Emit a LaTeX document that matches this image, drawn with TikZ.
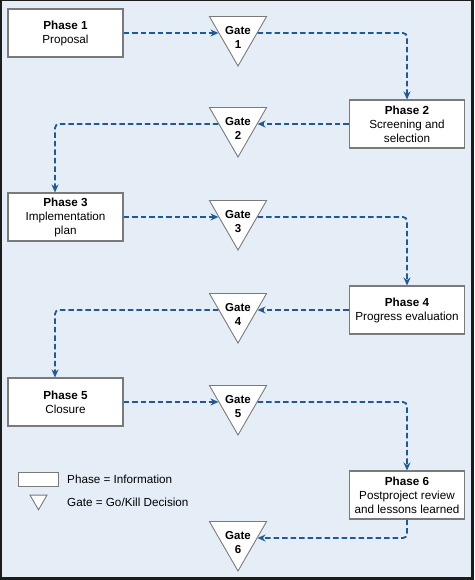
\documentclass[tikz,border=0pt]{standalone}
\usepackage{fontspec}
\setmainfont{Liberation Sans}
\usetikzlibrary{shapes.geometric,arrows.meta}
\definecolor{bg}{HTML}{E5EEF7}
\definecolor{flowblue}{HTML}{1F5A97}
\definecolor{edgegray}{HTML}{7A7A7A}
\definecolor{framecol}{HTML}{1C1C1C}
\begin{document}
\begin{tikzpicture}[x=1pt,y=-1pt,
 phasebox/.style={draw=edgegray, fill=white, line width=1.1pt, minimum width=115pt, minimum height=48pt, align=center, inner sep=1pt, font=\fontsize{11.7}{14}\selectfont},
 gate/.style={regular polygon, regular polygon sides=3, shape border rotate=180, draw=edgegray, fill=white, line width=0.9pt, minimum size=66pt, inner sep=0pt},
 gatetext/.style={align=center, font=\bfseries\fontsize{11.5}{14}\selectfont, inner sep=0pt},
 flow/.style={draw=flowblue, line width=1.8pt, dash pattern=on 5.5pt off 3pt, -{Stealth[length=8pt,width=7pt]}, rounded corners=4pt},
 legendtext/.style={anchor=west, font=\fontsize{11.7}{14}\selectfont, inner sep=0pt}]
\useasboundingbox (0,0) rectangle (474,580);
\fill[framecol] (0,0) rectangle (474,580);
\fill[bg] (2,1.5) rectangle (471,577);

\node[phasebox] (p1) at (65.5,33) {\textbf{Phase 1}\\Proposal};
\node[phasebox] (p2) at (407,124) {\textbf{Phase 2}\\Screening and\\selection};
\node[phasebox] (p3) at (65.5,217) {\textbf{Phase 3}\\Implementation\\plan};
\node[phasebox] (p4) at (407,310) {\textbf{Phase 4}\\Progress evaluation};
\node[phasebox] (p5) at (65.5,402) {\textbf{Phase 5}\\Closure};
\node[phasebox] (p6) at (407,495) {\textbf{Phase 6}\\Postproject review\\and lessons learned};

\foreach \n/\y in {1/33,2/124,3/217,4/310,5/402,6/538}{
  \node[gate] (g\n) at (238,\y) {};
  \node[gatetext] (g\n t) at ([yshift=-4.5pt]g\n.center) {Gate\\\n};
}

\draw[flow] (p1.east) -- (g1.west);
\draw[flow] (g1.east) -| (p2.north);
\draw[flow] (p2.west) -- (g2.east);
\draw[flow] (g2.west) -| ([xshift=-10.5pt]p3.north);
\draw[flow] (p3.east) -- (g3.west);
\draw[flow] (g3.east) -| (p4.north);
\draw[flow] (p4.west) -- (g4.east);
\draw[flow] (g4.west) -| ([xshift=-10.5pt]p5.north);
\draw[flow] (p5.east) -- (g5.west);
\draw[flow] (g5.east) -| (p6.north);
\draw[flow] (p6.south) |- (g6.east);

\node[draw=edgegray, fill=white, line width=0.9pt, minimum width=40pt, minimum height=14pt, inner sep=0pt] (lbox) at (38,479) {};
\node[legendtext] (lt1) at (67,479) {Phase = Information};
\node[gate, minimum size=19.6pt] (lgate) at (38.5,500) {};
\node[legendtext] (lt2) at (67,502) {Gate = Go/Kill Decision};
\end{tikzpicture}
\end{document}
